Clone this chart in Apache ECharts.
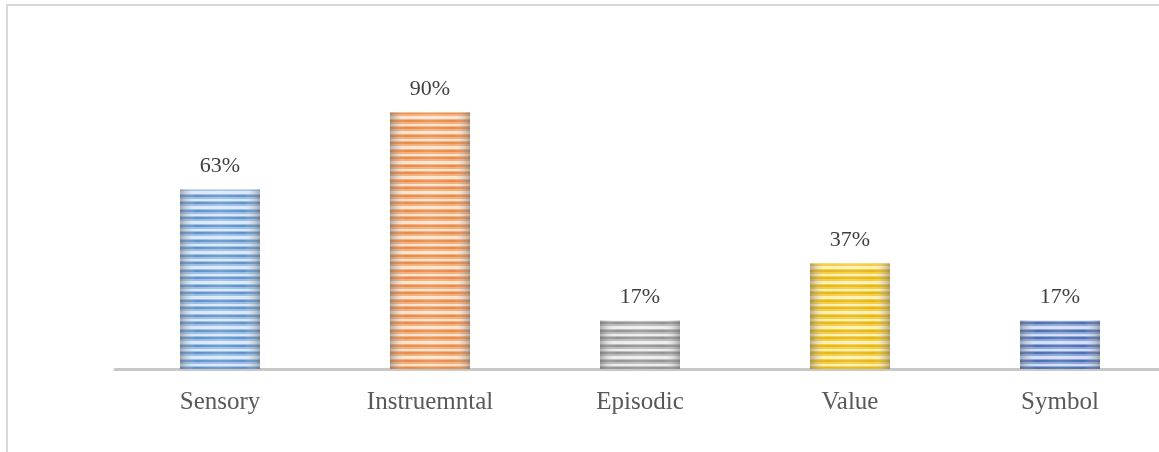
<!DOCTYPE html>
<html>
<head>
<meta charset="utf-8">
<script src="https://cdn.jsdelivr.net/npm/echarts@6/dist/echarts.min.js"></script>
<style>
  html, body { margin: 0; padding: 0; background: #fff; overflow: hidden; }
  .frame {
    position: absolute;
    left: 6px;
    top: 4px;
    width: 1200px;
    height: 470px;
    border: 2px solid #d9d9d9;
    box-sizing: border-box;
  }
  #chartId { position: absolute; left: 0; top: 0; width: 1200px; height: 452px; }
</style>
</head>
<body>
<div class="frame"></div>
<div id="chartId"></div>
<script>
// 数据
const categories = ['Sensory', 'Instruemntal', 'Episodic', 'Value', 'Symbol'];
const values = [63, 90, 17, 37, 17];

// 每根柱子的条纹颜色：深、中、浅
const stripeColors = [
  ['#5a8cc6', '#94bbe6', '#d9e8f8'],
  ['#e8843f', '#f3aa72', '#fce3cf'],
  ['#8e8e8e', '#b8b8b8', '#ededed'],
  ['#e4b30d', '#f5cb35', '#fdf0b6'],
  ['#4466aa', '#839fd8', '#d0ddf6'],
];

// 条纹图案（横向条纹）
const makeStripes = (c) => {
  const rows = [[2, 0], [2, 1], [2, 2], [1, 1], [2, 0], [2, 1], [3, 2], [1, 1]];
  const h = rows.reduce((s, r) => s + r[0], 0);
  const cv = document.createElement('canvas');
  cv.width = 8;
  cv.height = h;
  const ctx = cv.getContext('2d');
  let y = 0;
  rows.forEach(([rh, idx]) => {
    ctx.fillStyle = c[idx];
    ctx.fillRect(0, y, 8, rh);
    y += rh;
  });
  return { image: cv, repeat: 'repeat' };
};

const myChart = echarts.init(document.getElementById('chartId'));

// 柱子两侧的暗边
const edgeShade = {
  type: 'linear', x: 0, y: 0, x2: 1, y2: 0,
  colorStops: [
    { offset: 0, color: 'rgba(110,110,110,0.5)' },
    { offset: 0.2, color: 'rgba(255,255,255,0.05)' },
    { offset: 0.5, color: 'rgba(255,255,255,0.15)' },
    { offset: 0.8, color: 'rgba(255,255,255,0.05)' },
    { offset: 1, color: 'rgba(110,110,110,0.5)' },
  ],
};

const option = {
  animation: false,
  grid: { left: 115, width: 1050, top: 84, height: 285 },
  xAxis: {
    type: 'category',
    data: categories,
    axisLine: { lineStyle: { color: '#c8c8c8', width: 3 } },
    axisTick: { show: false },
    axisLabel: {
      color: '#595959',
      fontFamily: 'Liberation Serif',
      fontSize: 25,
      margin: 21,
    },
  },
  yAxis: {
    type: 'value',
    min: 0,
    max: 100,
    show: false,
    splitLine: { show: false },
  },
  series: [
    {
      type: 'bar',
      barWidth: 80,
      data: values.map((v, i) => ({
        value: v,
        itemStyle: { color: makeStripes(stripeColors[i]) },
      })),
      label: {
        show: true,
        position: 'top',
        distance: 12,
        formatter: '{c}%',
        color: '#404040',
        fontFamily: 'Liberation Serif',
        fontSize: 22,
      },
      z: 2,
    },
    {
      type: 'bar',
      barWidth: 80,
      barGap: '-100%',
      data: values,
      itemStyle: { color: edgeShade },
      silent: true,
      z: 3,
    },
  ],
};
myChart.setOption(option);
</script>
</body>
</html>
